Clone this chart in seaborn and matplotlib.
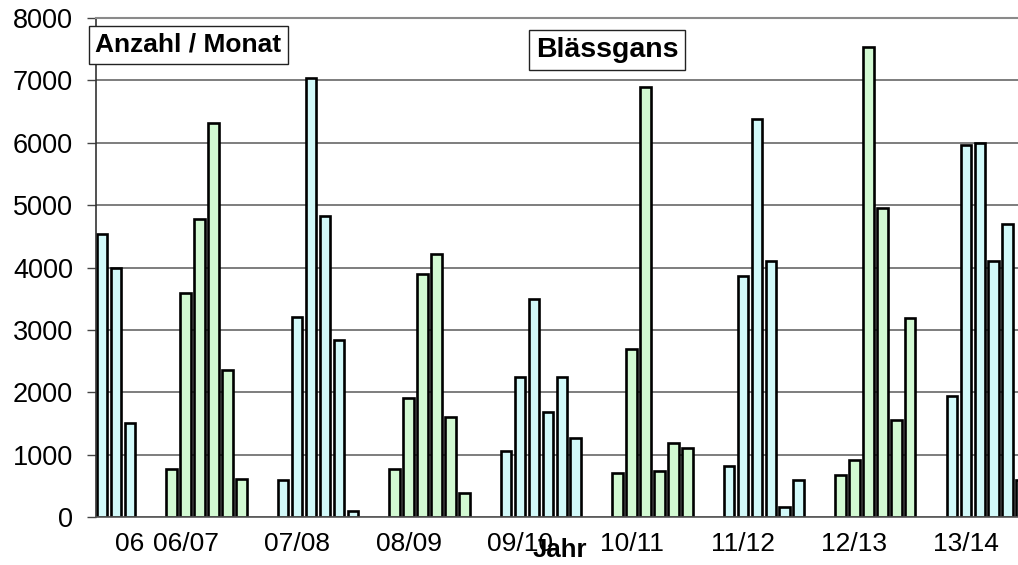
import matplotlib
matplotlib.use("Agg")
import matplotlib.pyplot as plt
import numpy as np
import pandas as pd
import seaborn as sns

sns.set_theme(style="white")
plt.rcParams['font.family'] = ['Liberation Sans', 'DejaVu Sans']
plt.rcParams['text.color'] = 'black'

# monthly counts per season (winter half-year, 6 months each)
seasons = ["06", "06/07", "07/08", "08/09", "09/10", "10/11", "11/12", "12/13", "13/14"]
s06 = [4530, 4000, 1500]          # only the last three months are shown
s0607 = [770, 3590, 4780, 6310, 2360, 610]
s0708 = [600, 3200, 7040, 4820, 2840, 90]
s0809 = [770, 1910, 3900, 4210, 1610, 390]
s0910 = [1060, 2250, 3500, 1680, 2240, 1260]
s1011 = [710, 2700, 6890, 740, 1180, 1100]
s1112 = [820, 3860, 6380, 4110, 160, 600]
s1213 = [670, 910, 7530, 4960, 1560, 3190]
s1314 = [1940, 5960, 5990, 4100, 4700, 600]
all_seasons = [s06, s0607, s0708, s0809, s0910, s1011, s1112, s1213, s1314]

cyan = "#CCFFFF"
green = "#CCFFCC"

rows = []
for k, vals in enumerate(all_seasons):
    first = 6 - len(vals)  # missing leading months
    for m, v in enumerate(vals):
        rows.append({"slot": 8 * k - 3 + first + m, "count": v,
                     "shade": "c" if k % 2 == 0 else "g"})
df = pd.DataFrame(rows)

fig = plt.figure(figsize=(10.18, 5.65), dpi=100)
ax = fig.add_axes([96 / 1018, 48 / 565, 934 / 1018, 499 / 565])

sns.barplot(data=df, x="slot", y="count", hue="shade", palette={"c": cyan, "g": green},
            native_scale=True, dodge=False, width=0.76, edgecolor="black",
            linewidth=1.9, legend=False, errorbar=None, ax=ax)

ax.set_xlim(-0.43, 66.6)
ax.set_ylim(0, 8000)
ax.set_yticks(np.arange(0, 8001, 1000))
ax.set_xticks([2] + [8 * k - 2 for k in range(1, len(seasons))])
ax.set_xticklabels(seasons)
ax.set_xlabel("")
ax.set_ylabel("")

ax.set_axisbelow(True)
ax.yaxis.grid(True, color="#5a5a5a", lw=1.1)
ax.xaxis.grid(False)
ax.spines["right"].set_visible(False)
ax.spines["top"].set_color("#8a8a8a")
ax.spines["top"].set_linewidth(1.5)
ax.spines["left"].set_color("#333333")
ax.spines["left"].set_linewidth(1.2)
ax.spines["bottom"].set_color("#555555")
ax.spines["bottom"].set_linewidth(1.2)

ax.tick_params(axis="y", left=True, length=6.5, width=1, color="#444444", pad=10,
               labelsize=19.5, labelcolor="black")
ax.tick_params(axis="x", length=0, pad=11, labelsize=19, labelcolor="black")

box = dict(boxstyle="square,pad=0.25", fc="white", ec="#222222", lw=1)
fig.text(188.5 / 1018, 1 - 45 / 565, "Anzahl / Monat", ha="center", va="center",
         fontsize=19, weight="bold", color="black", bbox=box)
fig.text(607 / 1018, 1 - 50 / 565, "Blässgans", ha="center", va="center",
         fontsize=20.5, weight="bold", color="black", bbox=box)
fig.text(560 / 1018, (565 - 557) / 565, "Jahr", ha="center", va="baseline",
         fontsize=18.5, weight="bold", color="black")

fig.savefig("out.png", dpi=100)
